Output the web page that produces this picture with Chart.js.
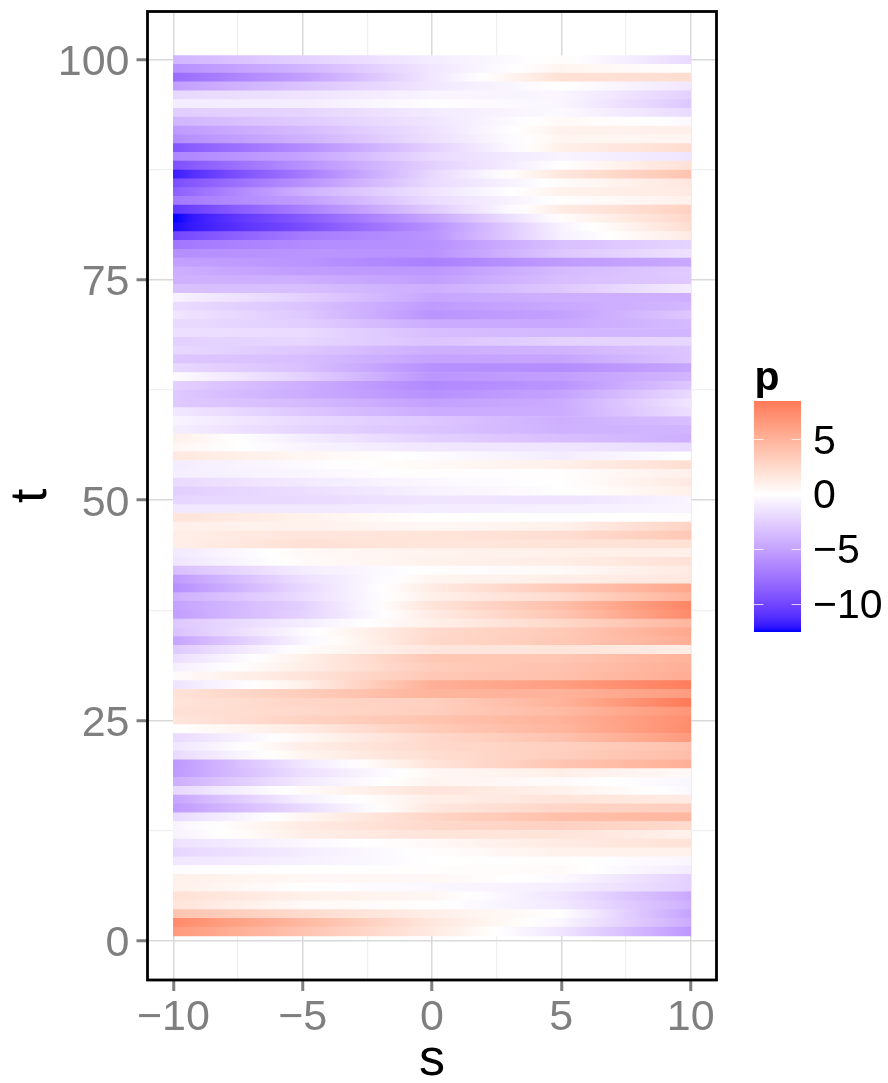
<!DOCTYPE html>
<html><head><meta charset="utf-8">
<script src="https://cdn.jsdelivr.net/npm/chart.js@4"></script>
<style>
html,body{margin:0;padding:0;background:#fff;overflow:hidden}
#wrap{position:relative;width:888px;height:1083px}
#main{position:absolute;left:0;top:0}
#bar{position:absolute;left:740px;top:355px}
</style></head><body>
<div id="wrap"><canvas id="main" width="888" height="1083"></canvas><canvas id="bar" width="148" height="290"></canvas></div>
<script>
const sColumns=[-10,-5,0,5,10];
const tRows=[100,99,98,97,96,95,94,93,92,91,90,89,88,87,86,85,84,83,82,81,80,79,78,77,76,75,74,73,72,71,70,69,68,67,66,65,64,63,62,61,60,59,58,57,56,55,54,53,52,51,50,49,48,47,46,45,44,43,42,41,40,39,38,37,36,35,34,33,32,31,30,29,28,27,26,25,24,23,22,21,20,19,18,17,16,15,14,13,12,11,10,9,8,7,6,5,4,3,2,1];
const pAtSMinus10=[-4,-6,-8,-5.2,-2.1,-1,-2.6,-4,-5.5,-6.2,
-9.3,-6.6,-9.5,-11.9,-9.6,-8.7,-7.3,-10.8,-12.6,-12.4,
-10,-7.4,-6.1,-5.1,-4.4,-4.2,-3.4,-0.7,-1.9,-1.4,
-2,-1.7,-2.5,-2.1,-3,-2.1,-0.2,-2.5,-2.9,-2.9,
-1.2,-0.6,-0.9,1,0.6,1.5,-1,-0.9,-2,-2.6,
-2.2,-1.2,1.8,1,1.1,1.1,-1.2,-1.4,-3.5,-5.4,
-6.1,-4.3,-5.1,-5.2,-3,-3.3,-5,-2.9,-1.8,-0.9,
0.2,-1.5,1.9,1.8,2,1.7,0,-2,-1.4,-2,
-5.6,-5.5,-4.4,-2.1,-4.8,-5.4,-2,-0.6,-0.7,-1.6,
-2.2,-1.3,-0.2,1,1,2,1.8,3.9,7.5,6.6];
const pAtSMinus5=[-2.5,-4,-5.2,-3.2,-1.5,-1,-2.3,-2.8,-3.7,-4.2,
-6.2,-5,-6,-7.2,-5.9,-4.3,-5.3,-6.9,-9,-9.7,
-7.2,-6.3,-5.8,-5.8,-5.3,-4.4,-3.5,-2.5,-3.2,-2.9,
-2.6,-1.9,-2.2,-3,-3.5,-3.4,-2.5,-4.4,-4.5,-3.7,
-3,-2,-2.3,-1,-0.6,0.6,-0.3,-0.5,-1.1,-1.8,
-2,-1.2,0.9,0.9,1.7,2,0.4,0.3,-1,-1.7,
-2.1,-1.9,-2.5,-2.4,-1,-0.3,-0.6,0.2,1,1.1,
1.8,1,3.3,2.7,2.5,2.9,1.3,0.5,1.1,0.7,
-1.3,-1.7,-1.2,0.3,-0.8,-2,0.6,1.3,1.1,-0.4,
-1,-0.8,0,0.5,0,1,0.4,2.4,4.6,3.9];
const pAtS0=[-1,-1.3,-1.3,-1.3,-0.6,-0.1,-1.1,-1.4,-1.6,-1.7,
-2.5,-2,-2.5,-2.1,-2,-1.5,-1.9,-2.8,-4.8,-6,
-5.8,-6,-5.9,-6.9,-5.6,-5.2,-4.4,-4.8,-5.4,-5.8,
-4.5,-3.5,-3.2,-4.4,-5,-6,-5.7,-6.4,-6,-5.1,
-4.5,-3,-3.2,-2.5,-1.3,-0.2,0.4,0.1,-0.4,-0.7,
-1.4,-1,0,0.5,1.8,1.7,0.8,0.9,0.1,0.7,
1.3,1,1.8,1.3,1,2.4,2.5,1.6,3.6,3.3,
3.6,5.2,4.9,3.1,3.2,3.9,3.4,2.5,2.5,2.2,
1.8,0.5,0.7,1.8,1.1,1.5,2.7,2.5,1.8,0.4,
0.1,0,0.1,0.5,-0.4,0.6,0.1,1.1,1.6,1.4];
const pAtS5=[0.2,0.7,2,0,-0.5,-0.5,-0.3,0.4,0.9,0.7,
1,-0.6,0,1.6,0.2,0.9,0.1,1.3,0.2,-0.7,
-0.8,-3.4,-3,-5.4,-3.7,-3.5,-3,-4.3,-4.7,-5.1,
-4.7,-3.9,-2.4,-4.1,-4.9,-6.2,-5.2,-5.8,-5,-4.5,
-4.5,-4.3,-4.2,-3.5,-1.4,-1,1,0.1,0,-0.1,
-1.5,-0.8,-0.1,0.9,2.2,1.8,1,1.2,0.4,1.1,
3.5,2.4,4.2,3.8,2.6,3.5,3.6,1.8,3.7,4,
4.1,6.3,5,5,4.5,5,4.8,4,3.1,3.2,
3.8,1.1,0.3,0.9,1.8,2.7,4.2,3,1.8,1.4,
0.9,0.1,0.3,-0.3,-0.9,-1.4,-1.2,0,-0.5,-1.4];
const pAtS10=[-2,0,2.2,-1.3,-2.5,-3,-2,-0.3,1,0.6,
2.3,-1.4,2,3.9,1.6,1.4,0.9,3,2.6,2.2,
1.3,-2.3,-1.6,-4.7,-2.8,-2.9,-1,-4.3,-3.9,-3,
-3.7,-4,-2.2,-3.1,-3.1,-4.9,-4,-3,-2,-1.4,
-1.7,-3.5,-4,-4.3,-2,0,2.2,1,1.4,1,
-0.6,-0.6,0.1,2.9,3.6,2,1,2,1.4,1.5,
5.8,5,7.8,7.5,4.8,5.7,5.3,1.2,5,5.2,
5.4,8.3,6.4,8.5,6.8,7.3,7.4,6.6,4,4.3,
5.2,0.4,-0.5,-0.4,1.3,3.2,4.7,2.4,0.9,1.9,
0.9,-0.5,-1,-2.5,-2.5,-4.7,-4.3,-5,-4.5,-5.6];
const xTicks=[-10,-7.5,-5,-2.5,0,2.5,5,7.5,10];
const yTicks=[0,12.5,25,37.5,50,62.5,75,87.5,100];
const xMajor=[-10,-5,0,5,10];
const yMajor=[0,25,50,75,100];
const legendTicks=[5,0,-5,-10];
const pLow=-12.6, pHigh=8.5;

const FONT='"Liberation Sans", Arial, sans-serif';
const GRAY='#7f7f7f';
const fmt=v=>String(v).replace('-','\u2212');

/* Lab colour ramp: blue - white - red, symmetric around zero */
function toLab(r,g,b){
  const f=c=>{c/=255;return c<=0.04045?c/12.92:Math.pow((c+0.055)/1.055,2.4);};
  const R=f(r),G=f(g),B=f(b);
  const X=(0.4124564*R+0.3575761*G+0.1804375*B)/0.95047,
        Y=(0.2126729*R+0.7151522*G+0.0721750*B),
        Z=(0.0193339*R+0.1191920*G+0.9503041*B)/1.08883;
  const h=t=>t>0.008856?Math.cbrt(t):7.787*t+16/116;
  return [116*h(Y)-16,500*(h(X)-h(Y)),200*(h(Y)-h(Z))];
}
function fromLab(L,a,b){
  const fy=(L+16)/116,fx=fy+a/500,fz=fy-b/200;
  const h=t=>t*t*t>0.008856?t*t*t:(t-16/116)/7.787;
  const X=h(fx)*0.95047,Y=h(fy),Z=h(fz)*1.08883;
  const g=c=>{c=Math.max(0,Math.min(1,c));return Math.round(255*(c<=0.0031308?12.92*c:1.055*Math.pow(c,1/2.4)-0.055));};
  return 'rgb('+g(3.2404542*X-1.5371385*Y-0.4985314*Z)+','+g(-0.9692660*X+1.8760108*Y+0.0415560*Z)+','+g(0.0556434*X-0.2040259*Y+1.0572252*Z)+')';
}
const labWhite=toLab(255,255,255),labBlue=toLab(0,0,255),labRed=toLab(255,0,0);
function colorOf(v){
  const f=Math.min(1,Math.abs(v)/12.6),e=v<0?labBlue:labRed;
  return fromLab(labWhite[0]+(e[0]-labWhite[0])*f,labWhite[1]+(e[1]-labWhite[1])*f,labWhite[2]+(e[2]-labWhite[2])*f);
}

const columns=[pAtSMinus10,pAtSMinus5,pAtS0,pAtS5,pAtS10];
const rowData=tRows.map(t=>({y:t,x:[sColumns[0],sColumns[sColumns.length-1]]}));

const gradCache={};
function rowGradient(ctx){
  const chart=ctx.chart,xs=chart.scales.x;
  if(!xs||ctx.dataIndex===undefined||!chart.chartArea)return '#fff';
  const i=ctx.dataIndex;
  if(gradCache[i])return gradCache[i];
  const x0=xs.getPixelForValue(sColumns[0]),x1=xs.getPixelForValue(sColumns[sColumns.length-1]);
  const g=chart.ctx.createLinearGradient(x0,0,x1,0),n=sColumns.length-1,sub=8;
  for(let c=0;c<n;c++){
    const a=columns[c][i],b=columns[c+1][i];
    for(let k=0;k<=sub;k++){g.addColorStop((c+k/sub)/n,colorOf(a+(b-a)*k/sub));}
  }
  gradCache[i]=g;return g;
}

const panelBorder={id:'panelBorder',afterDraw(chart){
  const a=chart.chartArea,c=chart.ctx;
  c.save();c.strokeStyle='#000';c.lineWidth=2.8;
  c.strokeRect(a.left,a.top,a.right-a.left,a.bottom-a.top);c.restore();
}};
const noPad=s=>{s.paddingTop=0;s.paddingBottom=0;s.paddingLeft=0;s.paddingRight=0;};

function axisCommon(major,title,fit,tickPad,labelOffset,titlePad){
  return {
    type:'linear',offset:false,
    border:{display:false},
    afterFit:s=>{fit(s);noPad(s);},
    title:{display:true,text:title,color:'#000',font:{family:FONT,size:52},padding:titlePad},
    grid:{
      offset:false,drawOnChartArea:true,drawTicks:true,tickLength:11,
      color:c=>major.includes(c.tick&&c.tick.value)?'#d9d9d9':'#f0f0f0',
      lineWidth:c=>major.includes(c.tick&&c.tick.value)?1.5:1.2,
      tickColor:c=>major.includes(c.tick&&c.tick.value)?GRAY:'rgba(0,0,0,0)',
      tickWidth:3
    },
    ticks:{
      color:GRAY,font:{family:FONT,size:43},autoSkip:false,maxRotation:0,minRotation:0,padding:tickPad,labelOffset:labelOffset,
      callback:v=>major.includes(v)?fmt(v):''
    }
  };
}
const xAxis=axisCommon(xMajor,'s',s=>{s.height=1083-980;},1,0,{top:0,bottom:-9});
xAxis.min=-11;xAxis.max=11;xAxis.afterBuildTicks=s=>{s.ticks=xTicks.map(v=>({value:v}));};
const yAxis=axisCommon(yMajor,'t',s=>{s.width=147.5;},7,3.5,{top:0,bottom:0});
yAxis.min=-4.5;yAxis.max=105.5;yAxis.afterBuildTicks=s=>{s.ticks=yTicks.map(v=>({value:v}));};

new Chart(document.getElementById('main'),{
  type:'bar',
  data:{datasets:[{label:'p',data:rowData,backgroundColor:rowGradient,borderWidth:0,categoryPercentage:1,barPercentage:1,grouped:false}]},
  options:{
    indexAxis:'y',responsive:false,animation:false,devicePixelRatio:1,
    layout:{padding:{top:11.5,right:888-716.5,left:0,bottom:0}},
    plugins:{legend:{display:false},tooltip:{enabled:false},title:{display:false}},
    scales:{x:xAxis,y:yAxis}
  },
  plugins:[panelBorder]
});

/* Colour bar */
const barDecor={id:'barDecor',afterDraw(chart){
  const a=chart.chartArea,c=chart.ctx,ys=chart.scales.y,w=(a.right-a.left)/5;
  c.save();c.strokeStyle='rgba(255,255,255,0.75)';c.lineWidth=1;
  legendTicks.forEach(v=>{const y=Math.round(ys.getPixelForValue(v))+0.5;
    c.beginPath();c.moveTo(a.left,y);c.lineTo(a.left+w,y);c.moveTo(a.right-w,y);c.lineTo(a.right,y);c.stroke();});
  c.fillStyle='#000';c.font='bold 41px '+FONT;c.textBaseline='alphabetic';c.textAlign='left';
  c.fillText(chart.data.datasets[0].label,a.left+0.5,a.top-11);
  c.restore();
}};
new Chart(document.getElementById('bar'),{
  type:'bar',
  data:{labels:['p'],datasets:[{label:'p',data:[[pLow,pHigh]],borderWidth:0,categoryPercentage:1,barPercentage:1,
    backgroundColor:ctx=>{
      const ch=ctx.chart,ys=ch.scales.y;
      if(!ys||!ch.chartArea)return '#fff';
      const y0=ys.getPixelForValue(pLow),y1=ys.getPixelForValue(pHigh),g=ch.ctx.createLinearGradient(0,y0,0,y1),N=42;
      for(let k=0;k<=N;k++){g.addColorStop(k/N,colorOf(pLow+(pHigh-pLow)*k/N));}
      return g;
    }}]},
  options:{
    responsive:false,animation:false,devicePixelRatio:1,
    layout:{padding:{top:46,bottom:290-277,left:14,right:0}},
    plugins:{legend:{display:false},tooltip:{enabled:false}},
    scales:{
      x:{display:false},
      y:{type:'linear',position:'right',min:pLow,max:pHigh,
        border:{display:false},
        grid:{display:false,drawTicks:false},
        afterBuildTicks:s=>{s.ticks=legendTicks.map(v=>({value:v}));},
        afterFit:s=>{s.width=148-61;noPad(s);},
        ticks:{color:'#000',font:{family:FONT,size:41},padding:12,labelOffset:3,autoSkip:false,callback:v=>fmt(v)}
      }
    }
  },
  plugins:[barDecor]
});
</script>
</body></html>
